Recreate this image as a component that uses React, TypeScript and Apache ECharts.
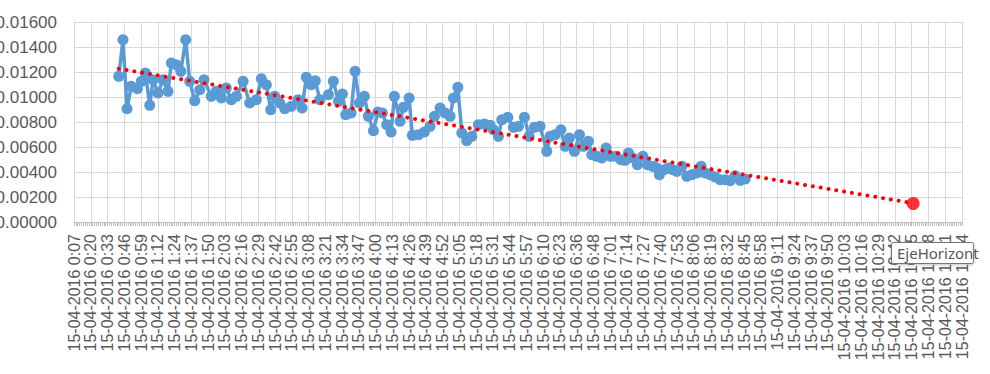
import React, { useEffect, useRef } from "react";
import * as echarts from "echarts";

// Time of each reading, minutes after midnight on 15-04-2016
const timesA = [
  41.8, 45.1, 48.2, 51.5, 56.2, 59.3, 62.4, 65.8, 68.3, 72.2,
  76.1, 79.9, 82.5, 86.3, 89.8, 93.6, 96.7, 100.6, 104.5, 107.8,
  113.4, 117.3, 121.2, 125.0, 128.9, 132.8, 138.0, 143.1, 148.2, 152.1,
  156.0, 159.4, 162.5, 166.3, 170.2, 175.3, 180.5, 183.6, 186.9, 190.8,
  193.9, 197.3,
];
const valuesA = [
  0.01165, 0.01458, 0.00906, 0.01085, 0.01066, 0.01125, 0.01192, 0.00933, 0.01138, 0.01032,
  0.01138, 0.01045, 0.01272, 0.01258, 0.01205, 0.01458, 0.01125, 0.0097, 0.01058, 0.01138,
  0.01005, 0.01045, 0.00992, 0.01072, 0.00978, 0.01005, 0.01125, 0.00952, 0.00978, 0.01146,
  0.01098, 0.00898, 0.01005, 0.00952, 0.00906, 0.00925, 0.00978, 0.00912, 0.01157, 0.01098,
  0.0113, 0.00978,
];
const timesB = [
  204.0, 207.8, 211.7, 214.8, 217.4, 221.5, 224.6, 227.9, 231.8, 234.9,
  238.8, 242.2, 245.7, 249.1, 252.5, 255.0, 259.4, 262.0, 266.4, 268.9,
  273.6, 278.2, 282.6, 286.0, 290.4, 294.2, 298.1, 300.7, 304.1, 307.2,
  311.0, 314.9, 320.0, 324.6, 329.1, 331.6, 335.5, 338.1, 342.8, 347.1,
  351.0, 355.6, 359.2, 363.3, 367.7,
];
const valuesB = [
  0.01018, 0.01125, 0.00965, 0.01024, 0.00858, 0.00872, 0.01205, 0.00952, 0.01005, 0.00845,
  0.0073, 0.0088, 0.00872, 0.00778, 0.0072, 0.01005, 0.00805, 0.00917, 0.00992, 0.00693,
  0.00698, 0.0072, 0.00765, 0.00845, 0.00912, 0.00872, 0.00845, 0.00992, 0.01077, 0.00712,
  0.0065, 0.00685, 0.00778, 0.00784, 0.00773, 0.00738, 0.00685, 0.00818, 0.00837, 0.00757,
  0.00765, 0.00837, 0.00685, 0.00757, 0.00765,
];
const timesC = [
  372.9, 375.5, 379.3, 383.8, 387.1, 390.4, 394.3, 398.2, 401.2, 405.1,
  407.7, 411.6, 415.5, 418.8, 422.4, 426.5, 430.2, 433.5, 436.1, 439.5,
  443.0, 447.2, 450.8, 454.9, 458.0, 460.0, 463.7, 467.0, 470.4, 473.5,
  477.4, 481.2, 485.1, 489.0, 492.3, 495.4, 499.3, 503.1, 507.0, 510.9,
  514.7, 518.6, 522.5, 526.4,
];
const valuesC = [
  0.00565, 0.00685, 0.00698, 0.00738, 0.00605, 0.00672, 0.00565, 0.00698, 0.00605, 0.00645,
  0.00538, 0.00525, 0.00512, 0.00592, 0.00525, 0.00525, 0.00498, 0.00493, 0.00552, 0.00512,
  0.00458, 0.00525, 0.00458, 0.00445, 0.00432, 0.00378, 0.00418, 0.00432, 0.00418, 0.00405,
  0.00445, 0.00365, 0.00378, 0.00392, 0.00445, 0.00392, 0.00378, 0.0036, 0.00338, 0.00338,
  0.0033, 0.0037, 0.00333, 0.00344,
];

// Linear trend (start and projected end) and the forecast point
const trendTimes = [41.8, 656.3];
const trendValues = [0.01226, 0.0015];
const forecastTime = [656.3];
const forecastValue = [0.00148];

// Axis settings (minutes): Excel auto scale 0.005 d .. 0.482 d, step 0.009 d
const xMin = 7.2;
const xStep = 12.96;
const xMax = 694.08;
const dateText = "15-04-2016";
const yTicks = [0, 0.016, 0.002];

const tooltipText = "EjeHorizont";

const FONT = '"Liberation Sans", Arial, sans-serif';

export default function App() {
  const ref = useRef<HTMLDivElement>(null);

  useEffect(() => {
    if (!ref.current) return;
    const chart = echarts.init(ref.current, null, { renderer: "svg" });

    const times = [...timesA, ...timesB, ...timesC];
    const values = [...valuesA, ...valuesB, ...valuesC];
    const mainData = times.map((t, i) => [t, values[i]]);
    const trendData = trendTimes.map((t, i) => [t, trendValues[i]]);
    const fcData = forecastTime.map((t, i) => [t, forecastValue[i]]);

    const fmtTime = (v: number) => {
      const t = Math.floor(v + 1e-6);
      const h = Math.floor(t / 60);
      const m = t % 60;
      return `${dateText} ${h}:${String(m).padStart(2, "0")}`;
    };

    chart.setOption({
      animation: false,
      backgroundColor: "#ffffff",
      grid: {
        left: 74,
        right: 28,
        top: 22,
        bottom: 152,
        containLabel: false,
        outerBoundsMode: "none",
      },
      xAxis: {
        type: "value",
        min: xMin,
        max: xMax,
        interval: xStep,
        axisLine: { show: true, lineStyle: { color: "#bfbfbf", width: 1 } },
        axisTick: { show: true, length: 4, lineStyle: { color: "#bfbfbf" } },
        minorTick: { show: true, splitNumber: 9, length: 4, lineStyle: { color: "#bfbfbf" } },
        splitLine: { show: true, lineStyle: { color: "#d9d9d9", width: 1 } },
        axisLabel: {
          rotate: 90,
          margin: 12,
          color: "#595959",
          fontFamily: FONT,
          fontSize: 16,
          formatter: (v: number) => fmtTime(v),
        },
      },
      yAxis: {
        type: "value",
        min: yTicks[0],
        max: yTicks[1],
        interval: yTicks[2],
        axisLine: { show: false },
        axisTick: { show: false },
        splitLine: { show: true, lineStyle: { color: "#d9d9d9", width: 1 } },
        axisLabel: {
          margin: 17,
          color: "#595959",
          fontFamily: FONT,
          fontSize: 17,
          formatter: (v: number) => v.toFixed(5),
        },
      },
      series: [
        {
          type: "line",
          data: mainData,
          symbol: "circle",
          symbolSize: 11,
          showSymbol: true,
          lineStyle: { color: "#5b9bd5", width: 3.5 },
          itemStyle: { color: "#5b9bd5" },
          z: 2,
        },
        {
          type: "line",
          data: trendData,
          symbol: "none",
          lineStyle: { color: "#ff0000", width: 4, type: [0.01, 7.9], cap: "round" },
          z: 3,
        },
        {
          type: "scatter",
          data: fcData,
          symbol: "circle",
          symbolSize: 13,
          itemStyle: { color: "#ff0000" },
          z: 4,
        },
      ],
      graphic: [
        {
          type: "rect",
          z: 100,
          shape: { x: 891.5, y: 242.5, width: 82, height: 21, r: 2 },
          style: {
            fill: "#ffffff",
            stroke: "#767676",
            lineWidth: 1,
            shadowBlur: 3,
            shadowOffsetY: 1,
            shadowColor: "rgba(0,0,0,0.25)",
          },
        },
        {
          type: "text",
          z: 101,
          x: 897,
          y: 253,
          style: {
            text: tooltipText,
            font: '15px "Noto Sans", sans-serif',
            fill: "#575757",
            verticalAlign: "middle",
          },
        },
      ],
    });

    return () => chart.dispose();
  }, []);

  return (
    <div
      ref={ref}
      style={{ position: "absolute", left: 0, top: 0, width: 990, height: 374 }}
    />
  );
}
